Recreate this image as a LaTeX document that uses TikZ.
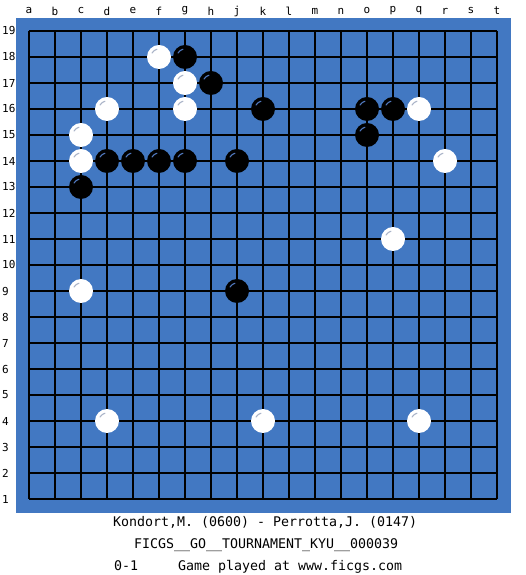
\documentclass[tikz,border=0pt]{standalone}
\usepackage{fontspec}
\setmonofont{DejaVu Sans Mono}
\definecolor{board}{RGB}{66,120,194}
\definecolor{bhl}{RGB}{80,120,190}
\definecolor{whl}{RGB}{170,180,200}
\tikzset{
  gridline/.style={line width=1.1pt, black},
  bstone/.style={circle, fill=black, minimum size=24pt, inner sep=0pt},
  wstone/.style={circle, fill=white, minimum size=24pt, inner sep=0pt},
  bhigh/.style={line width=1.1pt, bhl, line cap=round},
  whigh/.style={line width=1.1pt, whl, line cap=round},
  coordlabel/.style={font=\ttfamily\fontsize{11}{13}\selectfont, inner sep=0pt},
  infotext/.style={font=\ttfamily\fontsize{13.29}{16}\selectfont, inner sep=0pt, anchor=base west}
}
\begin{document}
\begin{tikzpicture}[x=1pt,y=1pt]
\useasboundingbox (0,0) rectangle (525,575);
\fill[board] (16,62) rectangle (511,557);
% grid
\foreach \i in {0,...,18} {
  \draw[gridline] (29+26*\i,76) -- (29+26*\i,544);
  \draw[gridline] (29,76+26*\i) -- (497,76+26*\i);
}
% column letters
\foreach \l [count=\c from 0] in {a,b,c,d,e,f,g,h,j,k,l,m,n,o,p,q,r,s,t} {
  \node[coordlabel] (col\l) at (29+26*\c,564) {\l};
}
% row numbers
\foreach \r in {1,...,19} {
  \node[coordlabel, anchor=west] (row\r) at (2,26*\r+50) {\r};
}
% black stones: col index, row
\foreach \c/\r in {6/18,7/17,9/16,13/16,14/16,13/15,3/14,4/14,5/14,6/14,8/14,2/13,8/9} {
  \node[bstone] (b\c-\r) at (29+26*\c,26*\r+50) {};
  \draw[bhigh] ([shift={(150:8pt)}]b\c-\r.center) arc (150:105:8pt);
}
% white stones
\foreach \c/\r in {5/18,6/17,6/16,3/16,15/16,2/15,2/14,16/14,14/11,2/9,3/4,9/4,15/4} {
  \node[wstone] (w\c-\r) at (29+26*\c,26*\r+50) {};
  \draw[whigh] ([shift={(150:8pt)}]w\c-\r.center) arc (150:105:8pt);
}
% info text
\node[infotext] (line1) at (113,48) {Kondort,M. (0600) - Perrotta,J. (0147)};
\node[infotext] (line2) at (134,27) {FICGS\_\_GO\_\_TOURNAMENT\_KYU\_\_000039};
\node[infotext] (line3) at (114,5) {0-1\ \ \ \ \ Game played at www.ficgs.com};
\end{tikzpicture}
\end{document}
